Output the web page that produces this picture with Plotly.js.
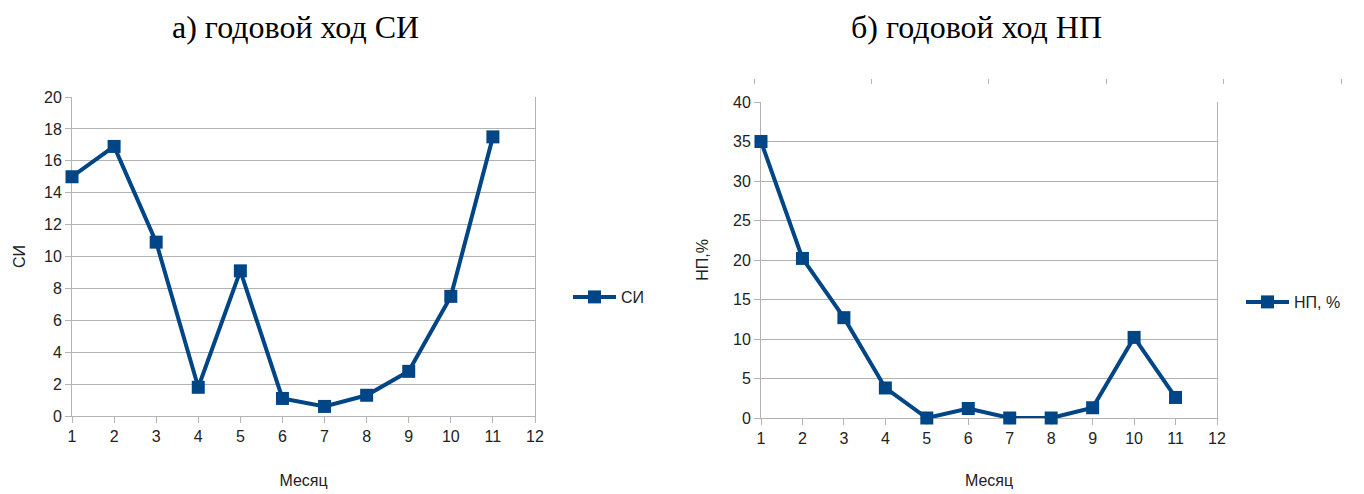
<!DOCTYPE html>
<html><head><meta charset="utf-8">
<script src="https://cdn.plot.ly/plotly-3.0.1.min.js"></script>
<style>html,body{margin:0;padding:0;background:#fff}#c{width:1364px;height:494px}</style>
</head><body><div id="c"></div>
<script>
const months = [1,2,3,4,5,6,7,8,9,10,11];
const siValues = [15, 16.9, 10.9, 1.8, 9.1, 1.1, 0.6, 1.3, 2.8, 7.5, 17.5];
const npValues = [35, 20.2, 12.7, 3.8, 0, 1.2, 0, 0, 1.3, 10.2, 2.6];
const siName = 'СИ';
const npName = 'НП, %';
const titleA = 'а) годовой ход СИ';
const titleB = 'б) годовой ход НП';
const xTitle = 'Месяц';
const yTitleA = 'СИ';
const yTitleB = 'НП,%';

const W = 1364, H = 494;
const px = v => v / W;
const py = v => 1 - v / H;
const blue = '#004586';
const grid = '#b3b3b3';
const font = {family: 'Liberation Sans, Arial, sans-serif', size: 16, color: '#222'};

const traces = [
  {x: months, y: siValues, name: siName, type: 'scatter', mode: 'lines+markers', cliponaxis: false,
   line: {color: blue, width: 4}, marker: {symbol: 'square', size: 13, color: blue},
   xaxis: 'x', yaxis: 'y', legend: 'legend'},
  {x: months, y: npValues, name: npName, type: 'scatter', mode: 'lines+markers', cliponaxis: false,
   line: {color: blue, width: 4}, marker: {symbol: 'square', size: 13, color: blue},
   xaxis: 'x2', yaxis: 'y2', legend: 'legend2'},
  {x: [0], y: [0], type: 'scatter', mode: 'markers', marker: {opacity: 0}, showlegend: false,
   hoverinfo: 'skip', xaxis: 'x3', yaxis: 'y3'}
];

const xCommon = {range: [1, 12], dtick: 1, tick0: 1, showgrid: false, zeroline: false,
  showline: true, linecolor: grid, linewidth: 1, ticks: 'outside', ticklen: 6, tickcolor: grid,
  tickfont: font, automargin: false, layer: 'below traces'};
const yCommon = {showgrid: true, gridcolor: grid, gridwidth: 1, zeroline: false,
  showline: true, mirror: true, linecolor: grid, linewidth: 1, ticks: 'outside', ticklen: 6,
  tickcolor: grid, tickfont: font, automargin: false, layer: 'below traces'};

const layout = {
  width: W, height: H, margin: {l: 0, r: 0, t: 0, b: 0},
  paper_bgcolor: '#fff', plot_bgcolor: '#fff', font: font,
  xaxis: Object.assign({}, xCommon, {domain: [px(72), px(535)], anchor: 'y',
    title: {text: xTitle, font: font, standoff: 30}}),
  yaxis: Object.assign({}, yCommon, {domain: [py(416), py(97)], anchor: 'x', range: [0, 20], dtick: 2,
    title: {text: yTitleA, font: font, standoff: 14}}),
  xaxis2: Object.assign({}, xCommon, {domain: [px(761), px(1217)], anchor: 'y2',
    title: {text: xTitle, font: font, standoff: 28}}),
  yaxis2: Object.assign({}, yCommon, {domain: [py(418), py(102)], anchor: 'x2', range: [0, 40], dtick: 5,
    title: {text: yTitleB, font: font, standoff: 20}}),
  xaxis3: {domain: [px(754), px(1341)], anchor: 'y3', range: [0, 5], dtick: 1, tick0: 0,
    showgrid: false, zeroline: false, showline: false, showticklabels: false,
    ticks: 'outside', ticklen: 5, tickcolor: grid, fixedrange: true},
  yaxis3: {domain: [py(78), py(70)], anchor: 'x3', visible: false, range: [0, 1], fixedrange: true},
  legend: {x: px(568), y: py(297), xanchor: 'left', yanchor: 'middle', font: font,
    bgcolor: 'rgba(0,0,0,0)', itemwidth: 43},
  legend2: {x: px(1241), y: py(302), xanchor: 'left', yanchor: 'middle', font: font,
    bgcolor: 'rgba(0,0,0,0)', itemwidth: 43},
  showlegend: true,
  annotations: [
    {text: titleA, x: px(295), y: py(27), xref: 'paper', yref: 'paper', showarrow: false,
     xanchor: 'center', yanchor: 'middle',
     font: {family: 'Liberation Serif, Times New Roman, serif', size: 32, color: '#000'}},
    {text: titleB, x: px(976), y: py(27), xref: 'paper', yref: 'paper', showarrow: false,
     xanchor: 'center', yanchor: 'middle',
     font: {family: 'Liberation Serif, Times New Roman, serif', size: 32, color: '#000'}}
  ]
};

Plotly.newPlot('c', traces, layout, {displayModeBar: false, staticPlot: true});
</script></body></html>
